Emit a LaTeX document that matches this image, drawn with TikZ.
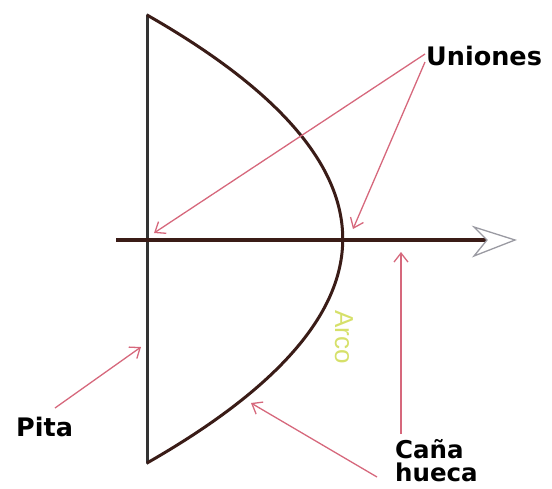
\documentclass[tikz,border=0pt]{standalone}
\usepackage{fontspec}
\setmainfont{DejaVu Sans}
\newfontfamily\arcofont{Liberation Sans}
\usetikzlibrary{arrows.meta}
\definecolor{bowbrown}{HTML}{3A1C17}
\definecolor{stringgray}{HTML}{333333}
\definecolor{pinkline}{HTML}{D6687C}
\definecolor{arcogreen}{HTML}{D6E06A}
\definecolor{tipgray}{HTML}{9A9AA2}
\tikzset{
  lbl/.style={font=\fontsize{25.5}{26}\selectfont\bfseries, inner sep=0pt, anchor=west},
  pointer/.style={draw=pinkline, line width=1.3pt, -{Straight Barb[length=9pt,width=14pt,line width=1.3pt]}},
  bowline/.style={draw=bowbrown, line width=3pt},
}
\begin{document}
\begin{tikzpicture}[x=1pt,y=-1pt]
\useasboundingbox (0,0) rectangle (552,488);
% key points
\coordinate (top) at (147,15);
\coordinate (bot) at (147,463);
\coordinate (shaftL) at (116,240);
\coordinate (shaftR) at (486,240);
\coordinate (tipA) at (474,227);
\coordinate (tipB) at (515,240);
\coordinate (tipC) at (474,256);
\coordinate (tipD) at (487,240);
% string
\draw[draw=stringgray, line width=3pt, line cap=round] (top) -- (bot);
% bow
\draw[bowline, line join=round] (top) .. controls (408,164) and (408,314) .. (bot);
% shaft
\draw[draw=bowbrown, line width=3.2pt] (shaftL) -- (shaftR);
\draw[draw=tipgray, line width=1.3pt, line join=miter] (tipA) -- (tipB) -- (tipC) -- (tipD) -- cycle;
% labels
\node[lbl] (uniones) at (426,56) {Uniones};
\node[lbl] (pita) at (16,427) {Pita};
\node[lbl, align=left, anchor=north west, font=\fontsize{24.5}{23}\selectfont\bfseries] (cana) at (395,439) {Caña\\hueca};
\node[font=\arcofont\fontsize{26}{26}\selectfont, text=arcogreen, rotate=-90, inner sep=0pt] (arco) at (344,337) {Arco};
% pointer endpoints
\coordinate (u1s) at (425,54);
\coordinate (u1e) at (154,233);
\coordinate (u2s) at (425,62);
\coordinate (u2e) at (353,229);
\coordinate (ps) at (55,408);
\coordinate (pe) at (141,347);
\coordinate (cs) at (377,477);
\coordinate (ce) at (251,403);
\coordinate (as) at (401,434);
\coordinate (ae) at (401,252);
% pointers
\draw[pointer] (u1s) -- (u1e);
\draw[pointer] (u2s) -- (u2e);
\draw[pointer] (ps) -- (pe);
\draw[pointer] (cs) -- (ce);
\draw[pointer] (as) -- (ae);
\end{tikzpicture}
\end{document}
